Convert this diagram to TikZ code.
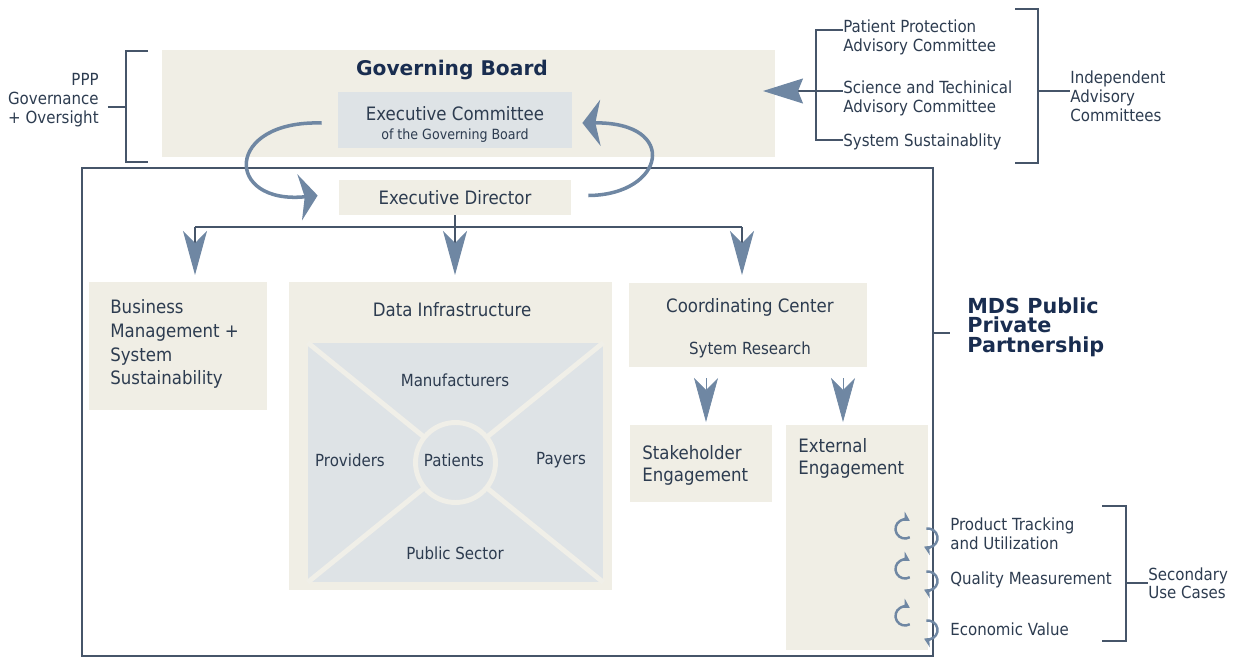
\documentclass[tikz,border=0pt]{standalone}
\usepackage{fontspec}
\setmainfont{DejaVu Sans Condensed}
\newfontfamily\headfont{DejaVu Sans}
\usetikzlibrary{arrows.meta,fit,calc}
\definecolor{panelbeige}{RGB}{240,238,229}
\definecolor{panelgrey}{RGB}{222,227,230}
\definecolor{arrowblue}{RGB}{111,135,163}
\definecolor{linegrey}{RGB}{70,85,105}
\definecolor{txtslate}{RGB}{45,60,80}
\definecolor{headnavy}{RGB}{25,45,80}
\definecolor{seamcol}{RGB}{240,239,232}

\begin{document}
\begin{tikzpicture}[x=0.02cm,y=-0.02cm,
   font=\fontsize{10.5}{13.6}\selectfont,text=txtslate,
   beigebox/.style={fill=panelbeige,inner sep=0pt,fit={#1}},
   greybox/.style={fill=panelgrey,inner sep=0pt,fit={#1}},
   txt/.style={inner sep=0pt},
   smalltxt/.style={inner sep=0pt,font=\fontsize{9.5}{10.8}\selectfont},
   headtxt/.style={inner sep=0pt,text=headnavy,font=\headfont\bfseries\fontsize{11.5}{12}\selectfont},
   conn/.style={draw=linegrey,line width=0.7pt},
   bigtip/.style={-{Stealth[length=0.88cm,width=0.48cm,inset=0.24cm,color=arrowblue]}},
   sidetip/.style={-{Stealth[length=0.8cm,width=0.5cm,inset=0.1cm,color=arrowblue]}},
   turnarrow/.style={draw=arrowblue,line width=2pt,-{Stealth[length=0.36cm,width=0.92cm,inset=0.1cm]}},
   cyc/.style={draw=arrowblue,line width=1.4pt,-{Stealth[length=5pt,width=6pt]}},
   seam/.style={draw=seamcol,line width=2.8pt}]
\useasboundingbox (0,0) rectangle (1246,658);

\node[beigebox={(162,50) (775,157)}] (govpanel) {};
\node[greybox={(338,92) (572,148)}] (excom) {};
\node[headtxt] (govhead) at (452,70) {Governing Board};
\node[txt] (excomtitle) at (455,114) {Executive Committee};
\node[txt,font=\fontsize{8}{9}\selectfont] (excomsub) at (455,136) {of the Governing Board};

\node[smalltxt,align=right,anchor=east] (ppp) at (99,100) {PPP\\Governance\\+ Oversight};
\draw[conn] (148,51) -- (126,51) -- (126,162) -- (148,162);
\draw[conn] ([xshift=0.18cm]ppp.east |- 0,107) -- (126,107);

\node[smalltxt,align=left,anchor=west] (patprot) at (843,37) {Patient Protection\\Advisory Committee};
\node[smalltxt,align=left,anchor=west] (scitech) at (843,98) {Science and Techinical\\Advisory Committee};
\node[smalltxt,anchor=west] (syssus) at (843,142) {System Sustainablity};
\node[smalltxt,align=left,anchor=west] (indep) at (1070,96) {Independent\\Advisory\\Committees};
\draw[conn] (patprot.west |- 0,30) -- (816,30) -- (816,140) -- (syssus.west |- 0,140);
\coordinate (comtip) at (763,91);
\draw[conn,sidetip] (scitech.west |- 0,91) -- (comtip);
\draw[conn] (1015,9) -- (1038,9) -- (1038,163) -- (1015,163);
\draw[conn] (1038,91) -- (indep.west |- 0,91);

\node[draw=linegrey,line width=0.7pt,inner sep=0pt,fit={(82,168) (933,656)}] (mds) {};
\node[headtxt,align=left,anchor=west,font=\headfont\bfseries\fontsize{11.8}{11.2}\selectfont] (mdslabel) at (967,327) {MDS Public\\Private\\Partnership};
\draw[conn] (mds.east |- 0,333) -- ([xshift=-0.34cm]mdslabel.west |- 0,333);

\node[beigebox={(339,180) (571,215)}] (execdir) {};
\node[txt] (edlabel) at (execdir.center) {Executive Director};

\draw[turnarrow] ([xshift=-0.32cm,yshift=-0.06cm]excom.west) .. controls (224,120) and (224,205) .. ([xshift=-0.42cm,yshift=0.04cm]execdir.west);
\draw[turnarrow] ([xshift=0.34cm,yshift=0.04cm]execdir.east) .. controls (665,195) and (680,122) .. ([xshift=0.2cm,yshift=-0.06cm]excom.east);

\node[beigebox={(89,282) (267,410)}] (business) {};
\node[txt,align=left,anchor=west] (buslabel) at (110,344) {Business\\Management +\\System\\Sustainability};
\node[beigebox={(289,282) (612,590)}] (datainf) {};
\node[txt] (datalabel) at (452,310) {Data Infrastructure};
\node[greybox={(308,343) (603,582)}] (inner) {};
\foreach \cc in {north west,north east,south west,south east}
   \draw[seam] (inner.\cc) -- ($(inner.center)!0.8cm!(inner.\cc)$);
\draw[seam] (inner.center) circle[radius=0.8cm];
\node[smalltxt] (manuf) at (455,380) {Manufacturers};
\node[smalltxt] (provid) at (350,460) {Providers};
\node[smalltxt] (patien) at (454,460) {Patients};
\node[smalltxt] (payers) at (561,460) {Payers};
\node[smalltxt] (pubsec) at (455,553) {Public Sector};

\node[beigebox={(629,283) (867,367)}] (coordc) {};
\node[txt] (cclabel) at (750,307) {Coordinating Center};
\node[smalltxt] (sysres) at (750,350) {Sytem Research};
\node[beigebox={(630,425) (772,502)}] (stake) {};
\node[txt,align=left,anchor=west,font=\fontsize{10.5}{12.5}\selectfont] (stakelabel) at (642,465) {Stakeholder\\Engagement};
\node[beigebox={(786,425) (928,650)}] (extern) {};
\node[txt,align=left,anchor=west,font=\fontsize{10.5}{12.5}\selectfont] (extlabel) at (798,458) {External\\Engagement};

\coordinate (split) at (455,227);
\coordinate (busin) at (195,227);
\coordinate (ccin) at (742,227);
\coordinate (bustip) at (195,275);
\coordinate (datatip) at (455,275);
\coordinate (cctip) at (742,275);
\coordinate (stakein) at (706,378);
\coordinate (staketip) at (706,422);
\coordinate (extin) at (843,378);
\coordinate (exttip) at (843,422);
\draw[conn] (busin) -- (ccin);
\draw[conn,bigtip] (execdir.south) -- (datatip);
\draw[conn,bigtip] (busin) -- (bustip);
\draw[conn,bigtip] (ccin) -- (cctip);
\draw[draw=arrowblue,bigtip] (stakein) -- (staketip);
\draw[draw=arrowblue,bigtip] (extin) -- (exttip);

\foreach \ya/\yb in {529/538,569/581,616/630}{
   \draw[cyc] ($(905,\ya)+(300:0.19cm)$) arc[start angle=300,end angle=60,radius=0.19cm];
   \draw[cyc] ($(928,\yb)+(100:0.19cm)$) arc[start angle=100,end angle=-115,radius=0.19cm];
}
\node[smalltxt,align=left,anchor=west] (prodtrack) at (950,534) {Product Tracking\\and Utilization};
\node[smalltxt,anchor=west] (quality) at (950,580) {Quality Measurement};
\node[smalltxt,anchor=west] (econ) at (950,629) {Economic Value};
\node[smalltxt,align=left,anchor=west,font=\fontsize{9.5}{9}\selectfont] (secuse) at (1148,583) {Secondary\\Use Cases};
\draw[conn] (1102,506) -- (1126,506) -- (1126,641) -- (1102,641);
\draw[conn] (1126,583) -- (secuse.west);
\end{tikzpicture}
\end{document}
